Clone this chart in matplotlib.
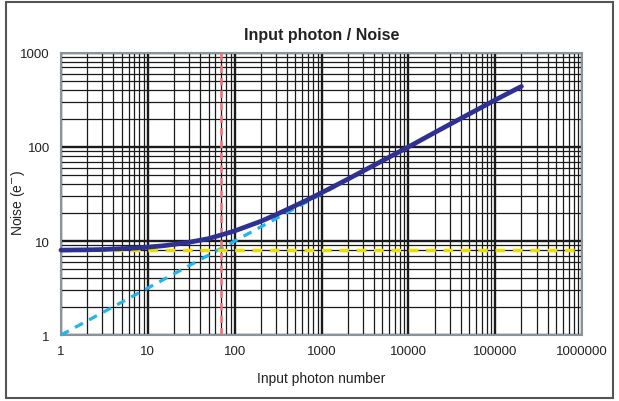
import matplotlib
matplotlib.use("Agg")
import matplotlib.pyplot as plt
from matplotlib.ticker import LogLocator, FixedLocator, FixedFormatter, NullFormatter
from matplotlib.patches import Rectangle

plt.rcParams['font.family'] = ['Liberation Sans', 'DejaVu Sans']

# total noise curve
photons = [1, 2, 3, 5, 7, 10, 15, 20, 30, 50, 70, 100, 150, 200, 300, 500, 700, 1000,
           2000, 3000, 5000, 10000, 20000, 30000, 50000, 100000, 200000]
noise = [8.0, 8.06, 8.12, 8.3, 8.4, 8.6, 8.9, 9.2, 9.7, 10.6, 11.6, 12.8, 14.7, 16.2, 19.1,
         23.8, 27.6, 32.6, 45.4, 55.4, 71.2, 100, 142, 174, 224, 316, 440]

# shot noise line and read noise level
shot_x = [1, 200000]
shot_y = [1, 447]
read_x = [1, 1000000]
read_y = [8, 8]
threshold_x = 69

x_ticks = [1, 10, 100, 1000, 10000, 100000, 1000000]
x_labels = ['1', '10', '100', '1000', '10000', '100000', '1000000']
y_ticks = [1, 10, 100, 1000]
y_labels = ['1', '10', '100', '1000']

fig = plt.figure(figsize=(6.19, 4.02), dpi=100)
ax = fig.add_axes([0.0985, 0.164, 0.842, 0.702])

ax.set_xscale('log')
ax.set_yscale('log')
ax.set_xlim(1, 1000000)
ax.set_ylim(1, 1000)

# grid
ax.xaxis.set_minor_locator(LogLocator(base=10, subs=range(2, 10), numticks=100))
ax.yaxis.set_minor_locator(LogLocator(base=10, subs=range(2, 10), numticks=100))
ax.xaxis.set_minor_formatter(NullFormatter())
ax.yaxis.set_minor_formatter(NullFormatter())
ax.grid(which='major', color='#1a1a1a', lw=1.7, zorder=0)
ax.grid(which='minor', color='#1a1a1a', lw=0.9, zorder=0)

ax.plot(shot_x, shot_y, color='#22b4ec', lw=2.3, ls=(0, (2.8, 2.2)), zorder=3, clip_on=False)
ax.plot(read_x, read_y, color='#ecdc00', lw=2.5, ls=(0, (2.8, 2.2)), zorder=3, clip_on=False)
ax.axvline(threshold_x, color='#f07070', lw=1.8, ls=(0, (3, 2)), zorder=3)
ax.plot(photons, noise, color='#2e3192', lw=3.4, zorder=4, solid_capstyle='round', clip_on=False)

ax.xaxis.set_major_locator(FixedLocator(x_ticks))
ax.xaxis.set_major_formatter(FixedFormatter(x_labels))
ax.yaxis.set_major_locator(FixedLocator(y_ticks))
ax.yaxis.set_major_formatter(FixedFormatter(y_labels))
ax.tick_params(which='both', length=0, labelsize=9.5, colors='#222222')
ax.tick_params(axis='x', pad=7)
ax.tick_params(axis='y', pad=8)

for s in ax.spines.values():
    s.set_color('#8a929b')
    s.set_linewidth(1.5)

ax.set_title('Input photon / Noise', fontsize=11.5, fontweight='bold', pad=10, color='#222222')
ax.set_xlabel('Input photon number', fontsize=10, labelpad=10, color='#222222')
ax.set_ylabel('Noise (e$^{-}$)', fontsize=10, color='#222222')
ax.yaxis.set_label_coords(-0.066, 0.47)

# outer frame
fig.patches.append(Rectangle((0.009, 0.008), 0.982, 0.985, transform=fig.transFigure,
                             fill=False, edgecolor='#555555', lw=1.5))

fig.savefig('out.png', dpi=100)
